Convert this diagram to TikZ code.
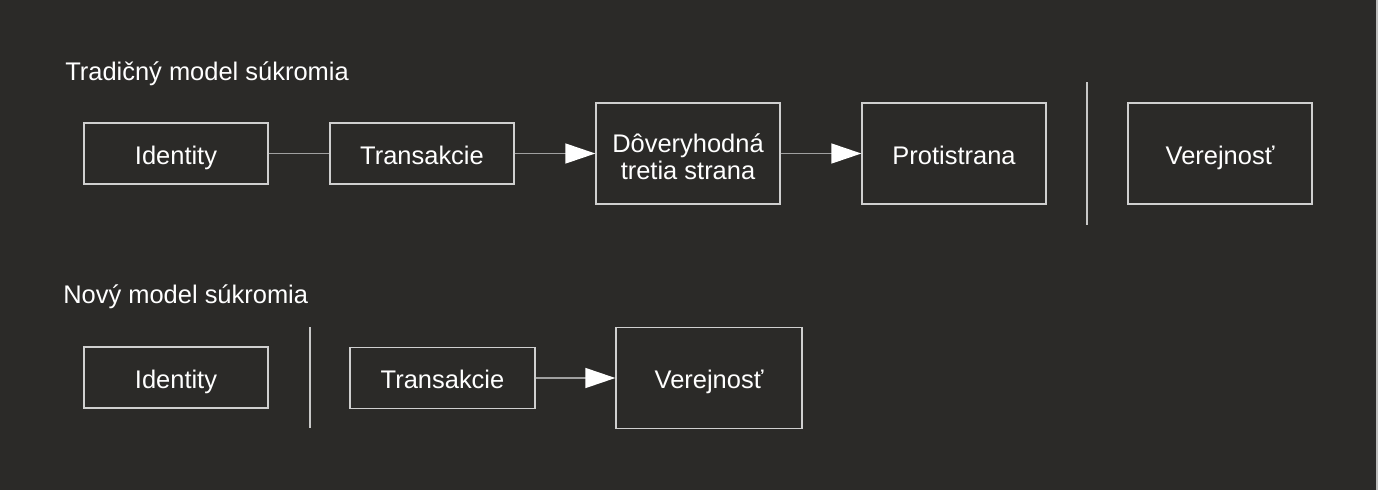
\documentclass[tikz,border=0pt]{standalone}
\usepackage{fontspec}
\setmainfont{Liberation Sans}
\usetikzlibrary{arrows.meta}
\definecolor{bg}{HTML}{2B2A28}
\definecolor{boxline}{HTML}{CFCFCF}
\definecolor{conn}{HTML}{A0A0A0}
\definecolor{sep}{HTML}{C8C8C8}
\tikzset{
  px/.style={x=0.75pt,y=-0.75pt},
  box/.style={draw=boxline, line width=1pt, inner sep=0pt, text=white, align=center,
    font=\fontsize{19.1}{20.25}\selectfont, minimum width=138pt, minimum height=45.75pt,
    text height=15.75pt, text depth=0pt},
  tallbox/.style={box, minimum height=75.75pt},
  title/.style={text=white, anchor=base west, inner sep=0pt, font=\fontsize{19.1}{22}\selectfont},
  conline/.style={draw=conn, line width=1.1pt},
  arr/.style={conline, -{Triangle[length=22.5pt, width=15pt, fill=white, color=white]}},
  sepline/.style={draw=sep, line width=1.1pt}
}
\begin{document}
\begin{tikzpicture}[px]
\fill[bg] (0,0) rectangle (1378,490);
\useasboundingbox (0,0) rectangle (1378,490);
\draw[draw=conn!70, line width=1pt] (1377,0) -- (1377,490);
% Row 1
\node[title] (t1) at (65,80) {Tradičný model súkromia};
\node[box] (id1) at (176,153.5) {Identity};
\node[box] (tr1) at (422,153.5) {Transakcie};
\node[tallbox, text height=38.25pt] (dt1) at (688,153.5) {Dôveryhodná\\tretia strana};
\node[tallbox] (pr1) at (954,153.5) {Protistrana};
\node[tallbox] (ve1) at (1220,153.5) {Verejnosť};
\coordinate (s1a) at (1087,82);
\coordinate (s1b) at (1087,225);
\draw[sepline] (s1a) -- (s1b);
\draw[conline] (id1) -- (tr1);
\draw[arr] (tr1) -- (dt1);
\draw[arr] (dt1) -- (pr1);
% Row 2
\node[title] (t2) at (63,303) {Nový model súkromia};
\node[box] (id2) at (176,377.5) {Identity};
\coordinate (s2a) at (310,327);
\coordinate (s2b) at (310,428);
\draw[sepline] (s2a) -- (s2b);
\node[box, minimum width=138.75pt] (tr2) at (442.5,378) {Transakcie};
\node[tallbox, minimum width=139.5pt] (ve2) at (709,378) {Verejnosť};
\draw[arr] (tr2) -- (ve2);
\end{tikzpicture}
\end{document}
